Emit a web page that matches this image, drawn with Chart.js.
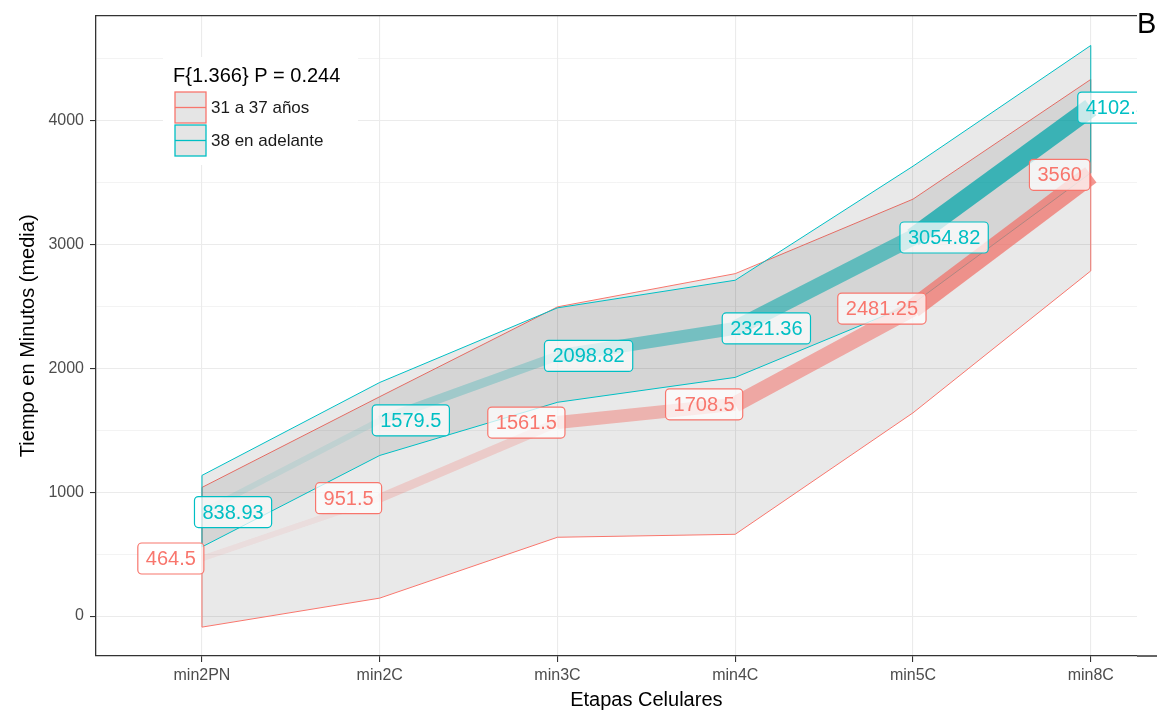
<!DOCTYPE html>
<html>
<head>
<meta charset="utf-8">
<script src="https://cdn.jsdelivr.net/npm/chart.js@4"></script>
<style>
  body { margin: 0; background: #fff; }
  canvas { display: block; }
</style>
</head>
<body>
<canvas id="grafico" width="1157" height="713"></canvas>
<script>
// Datos
const categorias = ["min2PN", "min2C", "min3C", "min4C", "min5C", "min8C"];
const nombreA = "31 a 37 años";
const nombreB = "38 en adelante";
const tituloLeyenda = "F{1.366} P = 0.244";

const mediaA = [464.5, 951.5, 1561.5, 1708.5, 2481.25, 3560];
const supA = [1038, 1770, 2495, 2763, 3364, 4330];
const infA = [-89, 145, 636, 660, 1640, 2785];

const mediaB = [838.93, 1579.5, 2098.82, 2321.36, 3054.82, 4102.55];
const supB = [1135, 1885, 2487, 2710, 3630, 4604];
const infB = [558, 1296, 1725, 1926, 2520, 3576];

const ticksY = [0, 1000, 2000, 3000, 4000];

// Estilos
const ROJO = "248,118,109";
const CIAN = "0,191,196";
const ROJO_LINEA = "240,112,104";
const CIAN_LINEA = "0,165,168";
const anchoSeg = [6, 9, 13, 16, 19];
const alfaSeg = [0.1, 0.25, 0.45, 0.55, 0.73];
const fuente = '"Liberation Sans", Arial, sans-serif';

const puntos = arr => arr.map((v, i) => ({ x: i, y: v }));
const borde = (arr1, arr2, i) => [{ x: i, y: arr1[i] }, { x: i, y: arr2[i] }];
const ult = categorias.length - 1;

function contorno(data, color, orden, fill) {
    return {
        data: data,
        borderColor: "rgb(" + color + ")",
        borderWidth: 1,
        pointRadius: 0,
        fill: fill || false,
        backgroundColor: "rgba(0,0,0,0.085)",
        order: orden,
    };
}

function linea(data, color, orden) {
    return {
        data: puntos(data),
        pointRadius: 0,
        fill: false,
        borderCapStyle: "butt",
        borderJoinStyle: "round",
        order: orden,
        segment: {
            borderWidth: c => anchoSeg[c.p0DataIndex],
            borderColor: c => "rgba(" + color + "," + alfaSeg[c.p0DataIndex] + ")",
        },
    };
}

const datasets = [
    contorno(puntos(infA), ROJO, 6),
    contorno(puntos(supA), ROJO, 6, "-1"),
    contorno(puntos(infB), CIAN, 5),
    contorno(puntos(supB), CIAN, 5, "-1"),
    contorno(borde(infA, supA, 0), ROJO, 6),
    contorno(borde(infA, supA, ult), ROJO, 6),
    contorno(borde(infB, supB, 0), CIAN, 5),
    contorno(borde(infB, supB, ult), CIAN, 5),
    linea(mediaA, ROJO_LINEA, 2),
    linea(mediaB, CIAN_LINEA, 1),
];

// Etiquetas con caja (geom_label)
function etiqueta(ctx, texto, cx, cy, color) {
    ctx.font = "20px " + fuente;
    const w = ctx.measureText(texto).width + 16;
    const h = 31;
    ctx.beginPath();
    ctx.roundRect(cx - w / 2, cy - h / 2, w, h, 4);
    ctx.fillStyle = "rgba(255,255,255,0.72)";
    ctx.fill();
    ctx.lineWidth = 1.2;
    ctx.strokeStyle = "rgb(" + color + ")";
    ctx.stroke();
    ctx.fillStyle = "rgb(" + color + ")";
    ctx.textAlign = "center";
    ctx.textBaseline = "middle";
    ctx.fillText(texto, cx, cy + 1);
}

const extras = {
    id: "extras",
    afterDatasetsDraw(chart) {
        const { ctx, chartArea, scales } = chart;
        ctx.save();
        ctx.beginPath();
        ctx.rect(chartArea.left, chartArea.top, chartArea.right - chartArea.left, chartArea.bottom - chartArea.top);
        ctx.clip();
        mediaA.forEach((v, i) => etiqueta(ctx, String(v), scales.x.getPixelForValue(i - 0.175), scales.y.getPixelForValue(v), ROJO));
        mediaB.forEach((v, i) => etiqueta(ctx, String(v), scales.x.getPixelForValue(i + 0.175), scales.y.getPixelForValue(v), CIAN));
        ctx.restore();
    },
    afterDraw(chart) {
        const { ctx, chartArea, scales } = chart;
        ctx.save();
        // borde superior y eje inferior
        ctx.strokeStyle = "#333";
        ctx.lineWidth = 1.3;
        ctx.beginPath();
        ctx.moveTo(chartArea.left, chartArea.top);
        ctx.lineTo(chartArea.right, chartArea.top);
        ctx.moveTo(chartArea.right, chartArea.bottom);
        ctx.lineTo(chart.width, chartArea.bottom);
        ctx.stroke();

        // leyenda
        ctx.fillStyle = "#fff";
        ctx.fillRect(163, 57, 195, 108);
        ctx.fillStyle = "#000";
        ctx.font = "20px " + fuente;
        ctx.textAlign = "left";
        ctx.textBaseline = "middle";
        ctx.fillText(tituloLeyenda, 173, 76);
        [[nombreA, ROJO], [nombreB, CIAN]].forEach(([txt, col], k) => {
            const y0 = 92 + k * 33;
            ctx.fillStyle = "#e5e5e5";
            ctx.fillRect(175, y0, 31, 31);
            ctx.strokeStyle = "rgb(" + col + ")";
            ctx.lineWidth = 1.3;
            ctx.strokeRect(175, y0, 31, 31);
            ctx.beginPath();
            ctx.moveTo(175, y0 + 15.5);
            ctx.lineTo(206, y0 + 15.5);
            ctx.stroke();
            ctx.fillStyle = "#1a1a1a";
            ctx.font = "17px " + fuente;
            ctx.fillText(txt, 211, y0 + 16);
        });

        // título del eje x, centrado sobre las categorías
        ctx.fillStyle = "#000";
        ctx.font = "20px " + fuente;
        ctx.textAlign = "center";
        ctx.fillText("Etapas Celulares", scales.x.getPixelForValue((categorias.length - 1) / 2), 700);

        // letra del panel
        ctx.textAlign = "left";
        ctx.textBaseline = "alphabetic";
        ctx.font = "29px " + fuente;
        ctx.fillText("B", 1137, 33);
        ctx.restore();
    },
};

const config = {
    type: "line",
    data: { datasets: datasets },
    plugins: [extras],
    options: {
        responsive: false,
        animation: false,
        devicePixelRatio: 1,
        layout: { padding: { left: 0, right: 20, top: 14, bottom: 0 } },
        plugins: {
            legend: { display: false },
            tooltip: { enabled: false },
        },
        scales: {
            x: {
                type: "linear",
                min: -0.596,
                max: 5.26,
                afterFit: s => { s.height = 57; },
                afterBuildTicks: s => { s.ticks = categorias.map((c, i) => ({ value: i })); },
                ticks: {
                    callback: v => categorias[v],
                    color: "#4d4d4d",
                    font: { family: fuente, size: 16 },
                    padding: 4,
                    autoSkip: false,
                    maxRotation: 0,
                },
                grid: { color: "#ebebeb", lineWidth: 1.1, tickLength: 6, tickColor: "#333" },
                border: { display: true, color: "#333", width: 1.3 },
            },
            y: {
                min: -322,
                max: 4845,
                afterFit: s => { s.width = 96; },
                afterBuildTicks: s => {
                    const t = [];
                    ticksY.forEach(v => { t.push({ value: v }); t.push({ value: v + 500 }); });
                    s.ticks = t;
                },
                ticks: {
                    callback: v => (ticksY.includes(v) ? v : ""),
                    color: "#4d4d4d",
                    font: { family: fuente, size: 16 },
                    padding: 6,
                },
                grid: {
                    color: "#ebebeb",
                    lineWidth: c => (ticksY.includes(c.tick.value) ? 1.1 : 0.6),
                    tickLength: 6,
                    tickColor: c => (ticksY.includes(c.tick.value) ? "#333" : "rgba(0,0,0,0)"),
                },
                border: { display: true, color: "#333", width: 1.3 },
                title: {
                    display: true,
                    text: "Tiempo en Minutos (media)",
                    color: "#000",
                    font: { family: fuente, size: 20 },
                    padding: { top: 16, bottom: 0 },
                },
            },
        },
    },
};

const grafico = new Chart(document.getElementById("grafico"), config);
</script>
</body>
</html>
